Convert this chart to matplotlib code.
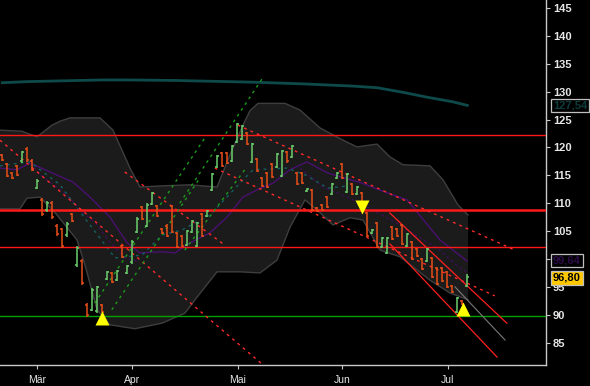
import matplotlib
matplotlib.use("Agg")
import matplotlib.pyplot as plt
import matplotlib.transforms as mtransforms
from matplotlib.collections import LineCollection
import numpy as np

# ---------------- data ----------------
highs = [118.8, 117.2, 115.6, 116.9, 119.4, 120.1, 117.9, 114.3, 110.9, 110.4,
         110.4, 106.3, 105.6, 106.6, 108.2, 102.3, 100.0, 92.1, 94.8, 95.2,
         91.9, 97.9, 97.7, 98.0, 102.5, 98.9, 103.4, 107.5, 109.5, 110.0,
         112.0, 109.7, 105.6, 106.2, 109.7, 104.8, 104.3, 105.2, 107.0, 106.6,
         108.2, 108.8, 115.4, 118.6, 119.2, 119.2, 120.4, 124.4, 124.0, 122.8,
         120.8, 118.1, 114.7, 115.6, 117.2, 119.0, 119.5, 119.3, 120.4, 115.6,
         115.6, 112.7, 112.5, 109.3, 109.9, 111.3, 113.6, 115.6, 117.2, 115.4,
         113.6, 113.1, 112.0, 108.4, 105.4, 106.6, 103.9, 103.9, 106.0, 105.5,
         106.3, 104.6, 103.3, 102.0, 100.2, 102.0, 100.4, 98.6, 98.6, 97.9,
         95.4, 93.2, 92.7, 97.3]
lows = [117.6, 114.7, 114.3, 114.9, 117.2, 117.4, 115.8, 112.5, 107.7, 108.4,
        107.2, 104.2, 102.0, 104.0, 106.6, 98.6, 95.4, 89.6, 90.6, 90.4,
        90.3, 96.2, 95.7, 96.0, 100.2, 97.3, 99.1, 104.6, 107.0, 105.7,
        109.6, 107.5, 104.4, 104.0, 104.6, 102.0, 102.2, 102.3, 104.6, 102.2,
        104.0, 107.5, 112.2, 116.3, 116.5, 117.0, 117.4, 120.8, 121.3, 120.4,
        117.2, 115.6, 112.9, 112.7, 114.5, 116.3, 114.7, 117.3, 118.1, 113.3,
        113.4, 112.0, 108.6, 108.4, 108.6, 109.2, 111.5, 114.3, 114.3, 111.8,
        111.5, 111.5, 108.8, 104.0, 104.4, 102.0, 101.9, 100.9, 103.4, 103.9,
        102.5, 102.2, 99.8, 100.4, 98.0, 99.5, 96.6, 95.4, 95.9, 94.8,
        93.9, 90.3, 91.8, 95.0]
opens = [118.6, 117.0, 115.4, 116.6, 117.5, 119.8, 117.6, 112.8, 110.6, 108.7,
         110.1, 106.0, 105.3, 104.3, 108.0, 98.9, 99.7, 91.8, 90.9, 90.7,
         91.7, 96.4, 97.5, 96.2, 102.3, 97.5, 99.4, 104.8, 109.3, 106.0,
         109.8, 109.5, 105.4, 106.0, 109.5, 104.6, 104.1, 102.6, 104.8, 102.4,
         108.0, 107.7, 112.4, 116.5, 119.0, 119.0, 117.6, 121.0, 121.5, 122.6,
         117.4, 117.9, 114.5, 115.4, 117.0, 116.5, 114.9, 119.1, 118.3, 115.4,
         115.4, 112.2, 112.3, 109.1, 109.7, 111.1, 111.7, 114.5, 117.0, 112.0,
         113.4, 111.7, 111.8, 108.2, 104.6, 106.4, 102.1, 101.1, 105.8, 105.3,
         106.1, 102.4, 103.1, 101.8, 100.0, 99.7, 100.2, 98.4, 98.4, 97.7,
         95.2, 90.5, 92.5, 95.2]
closes = [117.8, 114.9, 114.5, 115.1, 119.1, 117.7, 116.0, 114.0, 108.0, 110.1,
          107.5, 104.5, 102.3, 106.3, 106.8, 102.0, 95.7, 89.9, 94.5, 94.9,
          90.5, 97.7, 95.9, 97.8, 100.4, 98.7, 103.1, 107.2, 107.2, 109.7,
          111.8, 107.7, 104.6, 104.2, 104.8, 102.2, 102.4, 105.0, 106.8, 106.4,
          104.2, 108.6, 115.2, 118.4, 116.7, 117.2, 120.2, 124.2, 123.8, 120.6,
          120.6, 115.8, 113.1, 112.9, 114.7, 118.8, 119.3, 117.5, 120.2, 113.5,
          113.6, 112.5, 108.8, 108.6, 108.8, 109.4, 113.4, 115.4, 114.5, 115.2,
          111.7, 112.9, 109.0, 104.2, 105.2, 102.2, 103.7, 103.7, 103.6, 104.1,
          102.7, 104.4, 100.0, 100.6, 98.2, 101.8, 96.8, 95.6, 96.1, 95.0,
          94.1, 93.0, 92.0, 96.8]

month_pos = [7.0, 26.0, 47.1, 68.0, 89.1]
month_labels = ["Mär", "Apr", "Mai", "Jun", "Jul"]

y_ticks = [85, 90, 95, 100, 105, 110, 115, 120, 125, 130, 135, 140, 145]
# the 100 label is hidden behind the value boxes in the reference
y_labels = ["85", "90", "95", "", "105", "110", "115", "120", "125", "130", "135", "140", "145"]

# 200-day average (dark teal)
ma200_idx = [0, 5, 10, 15, 20, 25, 30, 35, 40, 45, 50, 55, 60, 65, 70, 75, 80, 85, 90, 93]
ma200_val = [131.6, 131.8, 131.9, 132.0, 132.1, 132.1, 132.05, 132.0, 131.9, 131.8,
             131.7, 131.55, 131.4, 131.2, 131.0, 130.7, 129.9, 129.0, 128.2, 127.54]

# envelope (bands)
upper_idx = [-0.46, 3.94, 6.94, 9.94, 11.54, 13.54, 19.54, 22.14, 25.54, 27.54, 31.54,
             37.54, 42.94, 45.54, 48.14, 49.54, 51.14, 56.54, 59.54, 63.54, 68.14,
             70.94, 74.94, 77.54, 80.14, 85.54, 88.14, 91.14, 93.14]
upper_val = [123.1, 122.9, 121.9, 124.0, 124.7, 125.3, 125.3, 123.1, 116.3, 112.9, 113.1,
             113.3, 112.9, 118.7, 124.0, 126.6, 127.9, 127.9, 126.7, 123.5, 121.3,
             120.1, 120.6, 118.3, 116.9, 116.7, 114.2, 109.7, 107.9]
lower_idx = [-0.46, 3.54, 4.94, 7.54, 10.94, 14.94, 16.54, 18.94, 21.54, 26.54, 31.94,
             36.54, 38.54, 42.94, 47.54, 51.54, 54.94, 57.54, 60.54, 63.54, 66.14,
             69.54, 72.14, 75.54, 79.54, 85.54, 89.54, 93.14]
lower_val = [109.0, 109.0, 110.9, 111.1, 107.9, 103.4, 98.9, 90.9, 88.2, 87.5, 88.5,
             90.3, 92.7, 97.7, 97.7, 97.5, 99.8, 105.7, 110.6, 108.3, 106.1,
             107.4, 107.0, 101.6, 100.4, 96.2, 93.9, 92.7]

# purple average
purple_idx = [-0.46, 2.94, 5.54, 9.54, 14.14, 17.54, 21.54, 24.94, 27.54, 31.94, 34.54,
              37.54, 41.54, 44.94, 48.14, 50.94, 54.14, 57.54, 60.94, 65.14, 71.94,
              76.54, 80.94, 87.54, 92.94]
purple_val = [116.3, 116.0, 117.2, 115.6, 113.8, 111.1, 107.5, 102.9, 101.1, 101.3, 101.1,
              102.9, 104.7, 107.5, 111.1, 112.4, 113.6, 116.0, 117.4, 115.4, 113.6,
              112.0, 110.6, 103.4, 99.64]
# dashed purple average (two visible stretches)
purple2_idx = [5.54, 8.14, 12.94, 16.14, 18.54, 21.14, 24.54, 27.54, np.nan,
               59.54, 64.14, 68.94, 74.94, 78.54, 83.54, 87.54, 90.54, 92.94]
purple2_val = [117.2, 114.7, 111.5, 108.3, 106.6, 103.4, 100.2, 99.5, np.nan,
               116.3, 112.9, 111.1, 108.4, 106.6, 103.8, 101.6, 99.1, 97.5]
# dashed teal average
teal_idx = [-0.46, 3.54, 5.54, 11.54, 17.54, 22.54, 27.94, 31.94, 35.94, 41.54, 47.54,
            50.14, 56.94, 60.54, 65.14, 69.14]
teal_val = [116.7, 117.2, 117.4, 113.3, 106.1, 100.2, 100.7, 104.3, 105.2, 107.9, 113.6,
            116.0, 116.3, 115.1, 112.7, 113.1]

# horizontal levels
red_levels = [122.25, 108.8, 102.2]
red_widths = [1.0, 1.8, 1.0]
green_level = 89.8

# trend lines ((idx1, price1), (idx2, price2))
red_dashed = [((-0.46, 121.3), (51.9, 81.2)),
              ((24.5, 115.6), (44.5, 102.5)),
              ((47.1, 124.0), (102.5, 101.6)),
              ((42.5, 116.3), (98.5, 93.4))]
red_solid = [((77.5, 108.25), (100.9, 88.5)),
             ((77.54, 102.69), (98.94, 82.43))]
gray_solid = [((90.54, 95.0), (100.54, 85.48))]
green_dashed = [((18.5, 92.1), (40.5, 121.7)),
                ((21.9, 90.9), (39.5, 114.5)),
                ((35.5, 110.0), (52.1, 132.5)),
                ((36.5, 101.6), (48.5, 116.0))]

# signal markers
sig_up = [(20, 89.4), (92.1, 91.0)]
sig_down = [(72, 109.3)]

last_close = 96.80
purple_last = 99.64
ma200_last = 127.54

# ---------------- drawing ----------------
W, H = 590, 386
fig = plt.figure(figsize=(W / 100, H / 100), dpi=100, facecolor="black")
ax = fig.add_axes([0, 21 / H, 546 / W, 365 / H])
ax.set_facecolor("black")
ax.set_xlim(-0.46, 108.74)
ax.set_ylim(81.0, 146.43)

# band
bx = np.concatenate([upper_idx, lower_idx[::-1]])
by = np.concatenate([upper_val, lower_val[::-1]])
ax.fill(bx, by, facecolor="#1b1b1b", edgecolor="none", zorder=1)
ax.plot(upper_idx, upper_val, color="#3e3e3e", lw=1.0, zorder=1.2)
ax.plot(lower_idx, lower_val, color="#3e3e3e", lw=1.0, zorder=1.2)

# averages
ax.plot(ma200_idx, ma200_val, color="#0f4a4a", lw=2.0, zorder=2)
ax.plot(purple_idx, purple_val, color="#4a1070", lw=1.0, zorder=2)
ax.plot(purple2_idx, purple2_val, color="#3c0e55", lw=1.0, ls=(0, (2, 2)), zorder=2)
ax.plot(teal_idx, teal_val, color="#136060", lw=1.0, ls=(0, (2, 3)), zorder=2)

# horizontal levels
for lv, lw in zip(red_levels, red_widths):
    ax.axhline(lv, color="#ff1a1a", lw=lw, zorder=3)
ax.axhline(green_level, color="#00a000", lw=1.0, zorder=3)

# trend lines
for (a, b) in red_dashed:
    ax.plot([a[0], b[0]], [a[1], b[1]], color="#ff2a2a", lw=1.0, ls=(0, (2, 3)), zorder=3)
for (a, b) in red_solid:
    ax.plot([a[0], b[0]], [a[1], b[1]], color="#ff2020", lw=0.9, zorder=3)
for (a, b) in gray_solid:
    ax.plot([a[0], b[0]], [a[1], b[1]], color="#7a7a7a", lw=0.8, zorder=3)
for (a, b) in green_dashed:
    ax.plot([a[0], b[0]], [a[1], b[1]], color="#1c9a1c", lw=1.0, ls=(0, (2, 3)), zorder=3)

# OHLC bars
up_col, dn_col = "#6ccf6c", "#e84e18"
segs, cols = [], []
for i, (o, h, l, c) in enumerate(zip(opens, highs, lows, closes)):
    col = up_col if c >= o else dn_col
    segs += [[(i, l), (i, h)], [(i - 0.4, o), (i, o)], [(i, c), (i + 0.4, c)]]
    cols += [col, col, col]
ax.add_collection(LineCollection(segs, colors=cols, linewidths=1.1, zorder=4))

# signals
for x, y in sig_up:
    ax.plot(x, y, marker="^", color="#ffff00", markersize=10, mec="none", zorder=6)
for x, y in sig_down:
    ax.plot(x, y, marker="v", color="#ffff00", markersize=10, mec="none", zorder=6)

# axes styling
for s in ["top", "left"]:
    ax.spines[s].set_visible(False)
for s in ["right", "bottom"]:
    ax.spines[s].set_color("#c8c8c8")
    ax.spines[s].set_linewidth(1.0)
ax.yaxis.tick_right()
ax.set_yticks(y_ticks)
ax.set_yticklabels(y_labels)
ax.tick_params(axis="y", colors="#c8c8c8", length=3, width=0.8, pad=2,
               labelsize=8, labelcolor="#e6e6e6")
for lab in ax.get_yticklabels():
    lab.set_fontweight("bold")
    lab.set_family("Liberation Sans")
ax.set_xticks(month_pos)
ax.set_xticklabels(month_labels)
ax.tick_params(axis="x", colors="#c8c8c8", length=3, width=0.8, pad=4,
               labelsize=7.5, labelcolor="#e6e6e6")
for lab in ax.get_xticklabels():
    lab.set_family("Liberation Sans")

# value boxes
trans = mtransforms.blended_transform_factory(ax.transAxes, ax.transData)
xb = 1.013
box_kw = dict(boxstyle="square,pad=0.15", ec="#c0c0c0", lw=0.9)
ax.text(xb, ma200_last, "127,54", transform=trans, ha="left", va="center",
        color="#0e3c3c", fontsize=8, fontweight="bold", family="Liberation Sans",
        bbox=dict(fc="black", **box_kw), clip_on=False, zorder=10)
ax.text(xb, purple_last + 0.05, "99,64", transform=trans, ha="left", va="center",
        color="#2c0c48", fontsize=8, fontweight="bold", family="Liberation Sans",
        bbox=dict(fc="black", **box_kw), clip_on=False, zorder=10)
ax.text(xb, last_close - 0.2, "96,80", transform=trans, ha="left", va="center",
        color="black", fontsize=8, fontweight="bold", family="Liberation Sans",
        bbox=dict(fc="#ffc800", **box_kw), clip_on=False, zorder=11)

fig.savefig("out.png", dpi=100, facecolor="black")
